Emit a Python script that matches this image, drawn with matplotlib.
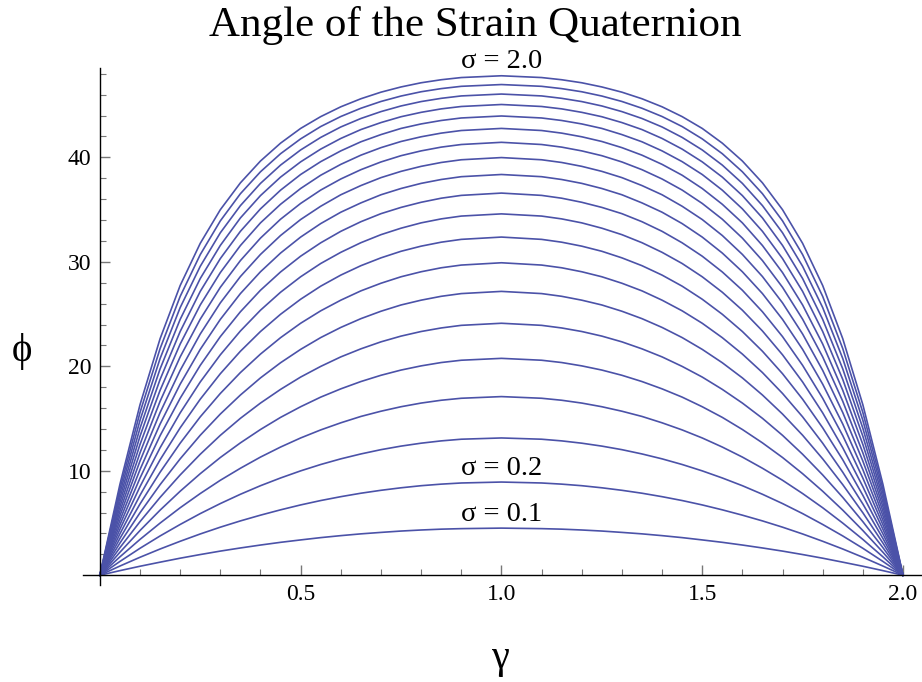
import numpy as np
import matplotlib
matplotlib.use("Agg")
import matplotlib.pyplot as plt
from matplotlib.ticker import MultipleLocator, FixedLocator

# shear parameter gamma where each curve was sampled
gamma = [0, 0.05, 0.1, 0.15, 0.2, 0.25, 0.3, 0.35, 0.4, 0.45, 0.5, 0.55, 0.6, 0.65, 0.7, 0.75, 0.8, 0.85,
         0.9, 1.0, 1.1, 1.15, 1.2, 1.25, 1.3, 1.35, 1.4, 1.45, 1.5, 1.55, 1.6, 1.65, 1.7, 1.75, 1.8,
         1.85, 1.9, 1.95, 2.0]

sigma = [0.1, 0.2, 0.3, 0.4, 0.5, 0.6, 0.7, 0.8, 0.9, 1.0,
         1.1, 1.2, 1.3, 1.4, 1.5, 1.6, 1.7, 1.8, 1.9, 2.0]

# quaternion angle phi (degrees) for each sigma, one row per curve
phi = [
    [0, 0.44, 0.86, 1.25, 1.63, 1.98, 2.31, 2.61, 2.89, 3.15, 3.38, 3.60, 3.79, 3.96, 4.10, 4.23, 4.33, 4.41, 4.46, 4.51,
     4.46, 4.41, 4.33, 4.23, 4.10, 3.96, 3.79, 3.60, 3.38, 3.15, 2.89, 2.61, 2.31, 1.98, 1.63, 1.25, 0.86, 0.44, 0],
    [0, 0.88, 1.72, 2.51, 3.25, 3.95, 4.60, 5.20, 5.75, 6.26, 6.73, 7.15, 7.52, 7.85, 8.13, 8.37, 8.57, 8.72, 8.83, 8.92,
     8.83, 8.72, 8.57, 8.37, 8.13, 7.85, 7.52, 7.15, 6.73, 6.26, 5.75, 5.20, 4.60, 3.95, 3.25, 2.51, 1.72, 0.88, 0],
    [0, 1.32, 2.58, 3.76, 4.86, 5.90, 6.86, 7.75, 8.57, 9.31, 9.99, 10.60, 11.14, 11.61, 12.02, 12.36, 12.64, 12.86, 13.02, 13.14,
     13.02, 12.86, 12.64, 12.36, 12.02, 11.61, 11.14, 10.60, 9.99, 9.31, 8.57, 7.75, 6.86, 5.90, 4.86, 3.76, 2.58, 1.32, 0],
    [0, 1.76, 3.43, 4.99, 6.46, 7.82, 9.09, 10.24, 11.31, 12.27, 13.14, 13.91, 14.59, 15.20, 15.70, 16.13, 16.48, 16.75, 16.94, 17.10,
     16.94, 16.75, 16.48, 16.13, 15.70, 15.20, 14.59, 13.91, 13.14, 12.27, 11.31, 10.24, 9.09, 7.82, 6.46, 4.99, 3.43, 1.76, 0],
    [0, 2.20, 4.28, 6.23, 8.04, 9.72, 11.27, 12.67, 13.95, 15.11, 16.13, 17.05, 17.84, 18.54, 19.14, 19.64, 20.04, 20.36, 20.58, 20.76,
     20.58, 20.36, 20.04, 19.64, 19.14, 18.54, 17.84, 17.05, 16.13, 15.11, 13.95, 12.67, 11.27, 9.72, 8.04, 6.23, 4.28, 2.20, 0],
    [0, 2.64, 5.13, 7.45, 9.60, 11.58, 13.39, 15.02, 16.48, 17.79, 18.97, 19.99, 20.90, 21.67, 22.34, 22.89, 23.33, 23.67, 23.92, 24.12,
     23.92, 23.67, 23.33, 22.89, 22.34, 21.67, 20.90, 19.99, 18.97, 17.79, 16.48, 15.02, 13.39, 11.58, 9.60, 7.45, 5.13, 2.64, 0],
    [0, 3.08, 5.98, 8.67, 11.14, 13.40, 15.43, 17.25, 18.89, 20.34, 21.62, 22.75, 23.72, 24.56, 25.27, 25.87, 26.33, 26.70, 26.96, 27.17,
     26.96, 26.70, 26.33, 25.87, 25.27, 24.56, 23.72, 22.75, 21.62, 20.34, 18.89, 17.25, 15.43, 13.40, 11.14, 8.67, 5.98, 3.08, 0],
    [0, 3.52, 6.82, 9.86, 12.64, 15.16, 17.40, 19.40, 21.17, 22.74, 24.12, 25.31, 26.33, 27.22, 27.95, 28.57, 29.05, 29.43, 29.69, 29.91,
     29.69, 29.43, 29.05, 28.57, 27.95, 27.22, 26.33, 25.31, 24.12, 22.74, 21.17, 19.40, 17.40, 15.16, 12.64, 9.86, 6.82, 3.52, 0],
    [0, 3.96, 7.65, 11.05, 14.11, 16.85, 19.29, 21.44, 23.33, 24.98, 26.42, 27.67, 28.73, 29.63, 30.38, 31.01, 31.50, 31.88, 32.15, 32.37,
     32.15, 31.88, 31.50, 31.01, 30.38, 29.63, 28.73, 27.67, 26.42, 24.98, 23.33, 21.44, 19.29, 16.85, 14.11, 11.05, 7.65, 3.96, 0],
    [0, 4.40, 8.48, 12.20, 15.54, 18.50, 21.10, 23.38, 25.37, 27.09, 28.57, 29.84, 30.91, 31.83, 32.60, 33.22, 33.73, 34.11, 34.38, 34.59,
     34.38, 34.11, 33.73, 33.22, 32.60, 31.83, 30.91, 29.84, 28.57, 27.09, 25.37, 23.38, 21.10, 18.50, 15.54, 12.20, 8.48, 4.40, 0],
    [0, 4.83, 9.30, 13.36, 16.94, 20.09, 22.84, 25.22, 27.28, 29.03, 30.54, 31.82, 32.92, 33.84, 34.61, 35.21, 35.70, 36.09, 36.36, 36.58,
     36.36, 36.09, 35.70, 35.21, 34.61, 33.84, 32.92, 31.82, 30.54, 29.03, 27.28, 25.22, 22.84, 20.09, 16.94, 13.36, 9.30, 4.83, 0],
    [0, 5.26, 10.11, 14.47, 18.29, 21.62, 24.49, 26.96, 29.05, 30.84, 32.37, 33.66, 34.75, 35.64, 36.42, 37.02, 37.51, 37.88, 38.15, 38.36,
     38.15, 37.88, 37.51, 37.02, 36.42, 35.64, 34.75, 33.66, 32.37, 30.84, 29.05, 26.96, 24.49, 21.62, 18.29, 14.47, 10.11, 5.26, 0],
    [0, 5.70, 10.93, 15.57, 19.61, 23.09, 26.07, 28.59, 30.71, 32.52, 34.05, 35.32, 36.42, 37.30, 38.06, 38.66, 39.14, 39.51, 39.77, 39.98,
     39.77, 39.51, 39.14, 38.66, 38.06, 37.30, 36.42, 35.32, 34.05, 32.52, 30.71, 28.59, 26.07, 23.09, 19.61, 15.57, 10.93, 5.70, 0],
    [0, 6.13, 11.72, 16.65, 20.90, 24.51, 27.56, 30.12, 32.27, 34.08, 35.59, 36.87, 37.93, 38.82, 39.56, 40.16, 40.62, 40.98, 41.23, 41.44,
     41.23, 40.98, 40.62, 40.16, 39.56, 38.82, 37.93, 36.87, 35.59, 34.08, 32.27, 30.12, 27.56, 24.51, 20.90, 16.65, 11.72, 6.13, 0],
    [0, 6.56, 12.52, 17.70, 22.13, 25.87, 28.97, 31.56, 33.73, 35.51, 37.02, 38.29, 39.33, 40.21, 40.93, 41.52, 41.97, 42.32, 42.57, 42.77,
     42.57, 42.32, 41.97, 41.52, 40.93, 40.21, 39.33, 38.29, 37.02, 35.51, 33.73, 31.56, 28.97, 25.87, 22.13, 17.70, 12.52, 6.56, 0],
    [0, 6.99, 13.31, 18.74, 23.33, 27.17, 30.31, 32.92, 35.07, 36.86, 38.36, 39.59, 40.62, 41.49, 42.18, 42.77, 43.20, 43.53, 43.77, 43.96,
     43.77, 43.53, 43.20, 42.77, 42.18, 41.49, 40.62, 39.59, 38.36, 36.86, 35.07, 32.92, 30.31, 27.17, 23.33, 18.74, 13.31, 6.99, 0],
    [0, 7.42, 14.07, 19.75, 24.49, 28.40, 31.57, 34.20, 36.34, 38.11, 39.57, 40.79, 41.81, 42.66, 43.33, 43.89, 44.31, 44.64, 44.87, 45.06,
     44.87, 44.64, 44.31, 43.89, 43.33, 42.66, 41.81, 40.79, 39.57, 38.11, 36.34, 34.20, 31.57, 28.40, 24.49, 19.75, 14.07, 7.42, 0],
    [0, 7.85, 14.83, 20.74, 25.62, 29.57, 32.78, 35.38, 37.51, 39.26, 40.71, 41.91, 42.91, 43.72, 44.38, 44.92, 45.34, 45.65, 45.88, 46.06,
     45.88, 45.65, 45.34, 44.92, 44.38, 43.72, 42.91, 41.91, 40.71, 39.26, 37.51, 35.38, 32.78, 29.57, 25.62, 20.74, 14.83, 7.85, 0],
    [0, 8.27, 15.58, 21.69, 26.69, 30.69, 33.92, 36.52, 38.62, 40.35, 41.77, 42.95, 43.91, 44.70, 45.35, 45.87, 46.28, 46.58, 46.80, 46.97,
     46.80, 46.58, 46.28, 45.87, 45.35, 44.70, 43.91, 42.95, 41.77, 40.35, 38.62, 36.52, 33.92, 30.69, 26.69, 21.69, 15.58, 8.27, 0],
    [0, 8.70, 16.32, 22.64, 27.73, 31.77, 34.99, 37.56, 39.65, 41.36, 42.77, 43.90, 44.84, 45.61, 46.24, 46.74, 47.14, 47.43, 47.64, 47.81,
     47.64, 47.43, 47.14, 46.74, 46.24, 45.61, 44.84, 43.90, 42.77, 41.36, 39.65, 37.56, 34.99, 31.77, 27.73, 22.64, 16.32, 8.70, 0],
]

# curves that get a sigma label above their peak
labelled = [2.0, 0.2, 0.1]

line_color = "#4b52a8"
serif = ["Liberation Serif", "DejaVu Serif"]

fig = plt.figure(figsize=(9.22, 6.82), dpi=100)
ax = fig.add_axes([0.090, 0.142, 0.909, 0.759])

for s, row in zip(sigma, phi):
    ax.plot(gamma, row, color=line_color, lw=1.2, solid_joinstyle="round")

for s in labelled:
    peak = max(phi[sigma.index(s)])
    ax.annotate("\u03c3 = %.1f" % s, xy=(1.0, peak), xytext=(0, 1),
                textcoords="offset points", ha="center", va="bottom",
                fontsize=20.5, family=serif)

ax.set_xlim(-0.042, 2.045)
ax.set_ylim(-0.95, 48.6)

# axes crossing at the origin
for side in ["top", "right"]:
    ax.spines[side].set_visible(False)
ax.spines["left"].set_position(("data", 0))
ax.spines["bottom"].set_position(("data", 0))
for side in ["left", "bottom"]:
    ax.spines[side].set_linewidth(1.0)

ax.xaxis.set_major_locator(FixedLocator([0.5, 1.0, 1.5, 2.0]))
ax.xaxis.set_minor_locator(MultipleLocator(0.1))
ax.yaxis.set_major_locator(FixedLocator([10, 20, 30, 40]))
ax.yaxis.set_minor_locator(MultipleLocator(2))
ax.tick_params(which="both", direction="in", color="#777777")
ax.tick_params(which="major", length=7, width=1.0, labelsize=17, pad=6)
ax.tick_params(which="minor", length=4, width=0.8)
ax.tick_params(axis="x", which="major", pad=6)
for lab in ax.get_xticklabels() + ax.get_yticklabels():
    lab.set_family(serif)

fig.text(0.515, 0.962, "Angle of the Strain Quaternion", ha="center", va="center",
         fontsize=31, family=serif)
fig.text(0.024, 0.484, "\u03d5", ha="center", va="center", fontsize=28, family=serif)
fig.text(0.543, 0.034, "\u03b3", ha="center", va="center", fontsize=29, family=serif)

fig.savefig("out.png", dpi=100)
